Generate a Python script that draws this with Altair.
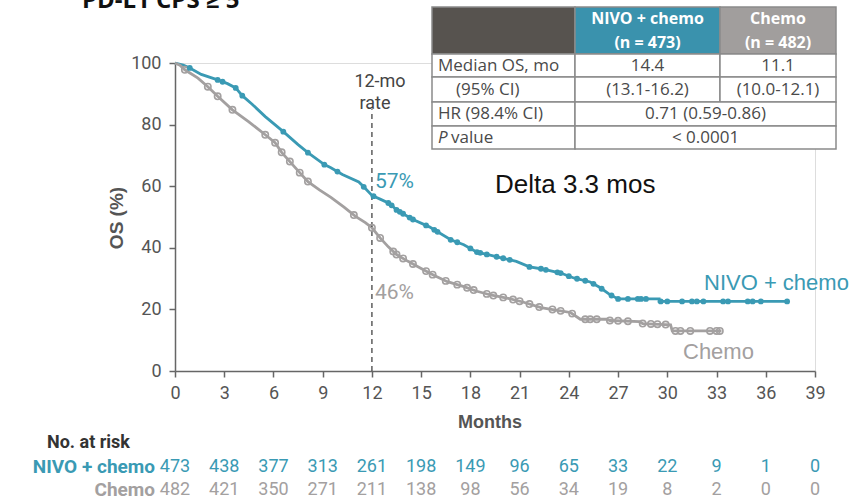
import altair as alt
import pandas as pd
import numpy as np

# ---------------- data ----------------
nivo_months = [0, 0.5, 0.9, 1.6, 2.6, 3.2, 3.7, 4.1, 4.7, 5.5, 6.6, 7.5, 8.1, 9.1, 9.5, 10.2,
               11.2, 11.5, 12.0, 12.5, 13.1, 13.5, 14.5, 15.5, 16.8, 17.6, 18.4, 19.2, 20.0,
               20.8, 21.6, 22.3, 23.5, 24.3, 25.3, 25.9, 26.5, 27.0, 29.5, 29.5, 37.3]
nivo_os = [100, 99.3, 98.4, 96.3, 94.5, 93.3, 91.9, 89.4, 86.6, 82.6, 77.7, 73.5, 70.9, 67.0,
           66.0, 63.8, 61.4, 59.8, 57.0, 55.8, 54.3, 52.3, 49.2, 46.8, 42.6, 41.0, 38.6, 37.6,
           36.6, 35.6, 33.8, 33.2, 31.8, 30.2, 28.9, 27.1, 24.8, 23.4, 23.4, 22.6, 22.6]

chemo_months = [0, 0.3, 0.6, 1.4, 2.0, 2.6, 3.5, 4.5, 5.5, 6.1, 6.5, 7.0, 7.6, 8.1, 8.8, 9.5,
                10.3, 11.0, 11.6, 12.0, 12.5, 13.0, 13.5, 14.2, 15.0, 15.8, 16.6, 17.6, 18.4,
                19.3, 20.3, 21.2, 22.3, 23.2, 24.1, 24.7, 26.3, 26.5, 28.3, 28.5, 30.2, 30.3, 33.3]
chemo_os = [100, 99.3, 97.8, 95.1, 92.3, 89.2, 84.8, 80.9, 76.7, 74.1, 71.0, 68.0, 64.4, 61.5,
            58.8, 56.4, 53.2, 50.2, 48.2, 46.5, 43.2, 40.3, 37.8, 35.6, 33.3, 31.0, 29.0, 27.4,
            25.9, 24.6, 23.6, 22.4, 20.6, 19.8, 19.0, 16.8, 16.8, 16.4, 16.0, 15.4, 15.0, 13.0, 13.0]

nivo_censor_months = [0.9, 2.6, 2.9, 3.7, 4.1, 6.6, 8.1, 9.1, 9.9, 11.5, 12.1, 13.0, 13.2, 13.5,
                      13.7, 13.9, 14.3, 14.5, 15.3, 15.8, 16.0, 16.8, 17.2, 18.0, 18.4, 18.6, 19.0,
                      19.6, 20.0, 20.4, 21.6, 22.3, 22.6, 23.3, 23.5, 24.0, 24.5, 25.0, 25.5, 26.0,
                      26.6, 27.0, 27.6, 28.2, 28.4, 28.7, 29.6, 30.0, 30.9, 31.5, 31.8, 32.2, 33.4,
                      33.7, 34.9, 35.2, 35.7, 37.3]
chemo_censor_months = [0.6, 2.0, 2.6, 3.5, 5.5, 6.1, 6.5, 7.0, 7.6, 8.1, 10.9, 12.0, 12.5, 13.3,
                       13.5, 13.9, 14.5, 15.3, 15.7, 16.5, 17.2, 17.8, 18.2, 19.0, 19.4, 20.0, 20.6,
                       21.0, 21.6, 22.2, 23.0, 23.5, 24.2, 25.0, 25.3, 25.7, 26.5, 27.0, 27.6, 28.5,
                       29.0, 29.4, 29.9, 30.5, 30.8, 31.4, 32.6, 33.0, 33.2]

risk_months = [0, 3, 6, 9, 12, 15, 18, 21, 24, 27, 30, 33, 36, 39]
nivo_at_risk = [473, 438, 377, 313, 261, 198, 149, 96, 65, 33, 22, 9, 1, 0]
chemo_at_risk = [482, 421, 350, 271, 211, 138, 98, 56, 34, 19, 8, 2, 0, 0]

x_ticks = [0, 3, 6, 9, 12, 15, 18, 21, 24, 27, 30, 33, 36, 39]
y_ticks = [0, 20, 40, 60, 80, 100]

arm_names = ["NIVO + chemo", "Chemo"]
rate_12mo = ["57%", "46%"]
table_header = [["NIVO + chemo", "(n = 473)"], ["Chemo", "(n = 482)"]]
table_rows = ["Median OS, mo", "(95% CI)", "HR (98.4% CI)", "value"]
median_os = ["14.4", "11.1"]
median_ci = ["(13.1-16.2)", "(10.0-12.1)"]
hr_text = "0.71 (0.59-0.86)"
p_text = "< 0.0001"

# ---------------- styles / layout ----------------
TEAL = "#3a9ab4"
GRAY = "#a3a0a0"
AXC = "#666666"
TXT = "#555555"
NARROW = "Roboto, Liberation Sans, sans-serif"
SANS = "Liberation Sans, sans-serif"
TFONT = "Open Sans, sans-serif"
W, H = 640, 308
L, T = 175, 63

curve = pd.concat([
    pd.DataFrame({"month": nivo_months, "os": nivo_os, "arm": arm_names[0]}),
    pd.DataFrame({"month": chemo_months, "os": chemo_os, "arm": arm_names[1]}),
], ignore_index=True)
curve["order"] = np.arange(len(curve))

nivo_c = pd.DataFrame({"month": nivo_censor_months,
                       "os": np.interp(nivo_censor_months, nivo_months, nivo_os)})
chemo_c = pd.DataFrame({"month": chemo_censor_months,
                        "os": np.interp(chemo_censor_months, chemo_months, chemo_os)})

X = alt.X("month:Q", scale=alt.Scale(domain=[0, 39], nice=False, zero=False),
          axis=alt.Axis(values=x_ticks, title=None, grid=False, labelFont=NARROW,
                        labelFontSize=18, labelColor=TXT, domainColor=AXC, domainWidth=1.5,
                        tickColor=AXC, tickWidth=1.5, tickSize=6, labelPadding=7,
                        labelFlush=False))
Y = alt.Y("os:Q", scale=alt.Scale(domain=[0, 100], nice=False),
          axis=alt.Axis(values=y_ticks, title=None, grid=False, labelFont=NARROW,
                        labelFontSize=18, labelColor=TXT, domainColor=AXC, domainWidth=1.5,
                        tickColor=AXC, tickWidth=1.5, tickSize=6, labelPadding=8,
                        labelFlush=False))

color = alt.Color("arm:N", scale=alt.Scale(domain=arm_names, range=[TEAL, GRAY]), legend=None)

lines = alt.Chart(curve).mark_line(strokeWidth=2.8).encode(
    x=X, y=Y, color=color, order="order:Q")

nivo_pts = alt.Chart(nivo_c).mark_point(filled=True, size=34, color=TEAL, opacity=1).encode(x=X, y=Y)
chemo_pts = alt.Chart(chemo_c).mark_point(filled=False, size=40, color=GRAY, strokeWidth=1.6,
                                          opacity=1).encode(x=X, y=Y)

rule_df = pd.DataFrame({"month": [12], "os": [0], "os2": [85]})
rule = alt.Chart(rule_df).mark_rule(strokeDash=[5, 4], color="#444", strokeWidth=1.3).encode(
    x=X, y=Y, y2="os2:Q")

one = pd.DataFrame({"a": [0]})


def txt(text, x, y, size=16, color=TXT, align="left", weight="normal", font=TFONT,
        baseline="middle", angle=0, style="normal"):
    kw = dict(text=text, fontSize=size, color=color, align=align, fontWeight=weight,
              font=font, baseline=baseline, fontStyle=style)
    if angle:
        kw["angle"] = angle
    return alt.Chart(one).mark_text(**kw).encode(x=alt.value(x - L), y=alt.value(y - T))


ann = [
    txt("PD-L1 CPS ≥ 5", 82, 8, size=24, color="#111", weight="bold", baseline="alphabetic",
        font="Open Sans, sans-serif"),
    txt("12-mo", 380, 82, size=18, color="#444", align="center", font=NARROW),
    txt("rate", 375, 104, size=18, color="#444", align="center", font=NARROW),
    txt(rate_12mo[0], 375, 182, size=21, color=TEAL, font=NARROW),
    txt(rate_12mo[1], 375, 293, size=21, color=GRAY, font=NARROW),
    txt("Delta 3.3 mos", 495, 185, size=26, color="#111", font=SANS),
    txt(arm_names[0], 704, 283, size=22, color=TEAL, font=SANS),
    txt(arm_names[1], 683, 352, size=22, color=GRAY, font=SANS),
    txt("Months", 490, 423, size=18, color=TXT, align="center", weight="bold", font=SANS),
    txt("OS (%)", 117, 218, size=19, color=TXT, align="center", weight="bold", font=SANS,
        angle=270),
    txt("No. at risk", 47, 443, size=18, color="#333", weight="bold", font=NARROW),
    txt(arm_names[0], 155, 467, size=19, color=TEAL, align="right", weight="bold", font=NARROW),
    txt(arm_names[1], 155, 490, size=19, color=GRAY, align="right", weight="bold", font=NARROW),
]

risk_n = pd.DataFrame({"month": risk_months, "n": nivo_at_risk})
risk_c = pd.DataFrame({"month": risk_months, "n": chemo_at_risk})
risk_layers = [
    alt.Chart(risk_n).mark_text(fontSize=18, font=NARROW, color=TEAL, baseline="middle").encode(
        x=X, y=alt.value(467 - T), text="n:Q"),
    alt.Chart(risk_c).mark_text(fontSize=18, font=NARROW, color=GRAY, baseline="middle").encode(
        x=X, y=alt.value(490 - T), text="n:Q"),
]

# ---------------- results table ----------------
cx = [432, 575, 720, 836]
ry = [7, 54, 77, 102, 126, 149]
cells = []
cells.append((cx[0], cx[1], ry[0], ry[1], "#57534f"))
cells.append((cx[1], cx[2], ry[0], ry[1], "#3a92ad"))
cells.append((cx[2], cx[3], ry[0], ry[1], "#a19e9d"))
for r in range(1, 5):
    cells.append((cx[0], cx[1], ry[r], ry[r + 1], "white"))
    if r <= 2:
        cells.append((cx[1], cx[2], ry[r], ry[r + 1], "white"))
        cells.append((cx[2], cx[3], ry[r], ry[r + 1], "white"))
    else:
        cells.append((cx[1], cx[3], ry[r], ry[r + 1], "white"))
cell_df = pd.DataFrame(cells, columns=["x0", "x1", "y0", "y1", "fill"])
for c in ["x0", "x1"]:
    cell_df[c] = cell_df[c] - L
for c in ["y0", "y1"]:
    cell_df[c] = cell_df[c] - T
table_rect = alt.Chart(cell_df).mark_rect(stroke="#8a8a8a", strokeWidth=1.5).encode(
    x=alt.X("x0:Q", scale=None), x2="x1:Q",
    y=alt.Y("y0:Q", scale=None), y2="y1:Q",
    fill=alt.Fill("fill:N", scale=None))

c1 = (cx[1] + cx[2]) / 2
c2 = (cx[2] + cx[3]) / 2
c12 = (cx[1] + cx[3]) / 2
rmid = [(ry[i] + ry[i + 1]) / 2 for i in range(5)]
TS = 17
HS = 16
TC = "#4a4a4a"
table_txt = [
    txt(table_header[0][0], c1, 19, size=HS, color="white", align="center", weight="bold"),
    txt(table_header[0][1], c1, 43, size=HS, color="white", align="center", weight="bold"),
    txt(table_header[1][0], c2, 19, size=HS, color="white", align="center", weight="bold"),
    txt(table_header[1][1], c2, 43, size=HS, color="white", align="center", weight="bold"),
    txt(table_rows[0], 438, rmid[1], size=TS, color=TC),
    txt(table_rows[1], 456, rmid[2], size=TS, color=TC),
    txt(table_rows[2], 438, rmid[3], size=TS, color=TC),
    txt("P", 438, rmid[4], size=TS, color=TC, style="italic"),
    txt(table_rows[3], 451, rmid[4], size=TS, color=TC),
    txt(median_os[0], c1, rmid[1], size=TS, color=TC, align="center"),
    txt(median_os[1], c2, rmid[1], size=TS, color=TC, align="center"),
    txt(median_ci[0], c1, rmid[2], size=TS, color=TC, align="center"),
    txt(median_ci[1], c2, rmid[2], size=TS, color=TC, align="center"),
    txt(hr_text, c12, rmid[3], size=TS, color=TC, align="center"),
    txt(p_text, c12, rmid[4], size=TS, color=TC, align="center"),
]

chart = alt.layer(
    lines, rule, chemo_pts, nivo_pts, *risk_layers, table_rect, *table_txt, *ann
).properties(
    width=W, height=H,
    autosize=alt.AutoSizeParams(type="none"),
    padding={"left": L, "top": T, "right": 868 - L - W, "bottom": 503 - T - H},
).resolve_scale(x="shared").configure_view(stroke=None).configure(background="white")

chart.save("out.html", embed_options={"renderer": "svg", "actions": False})
